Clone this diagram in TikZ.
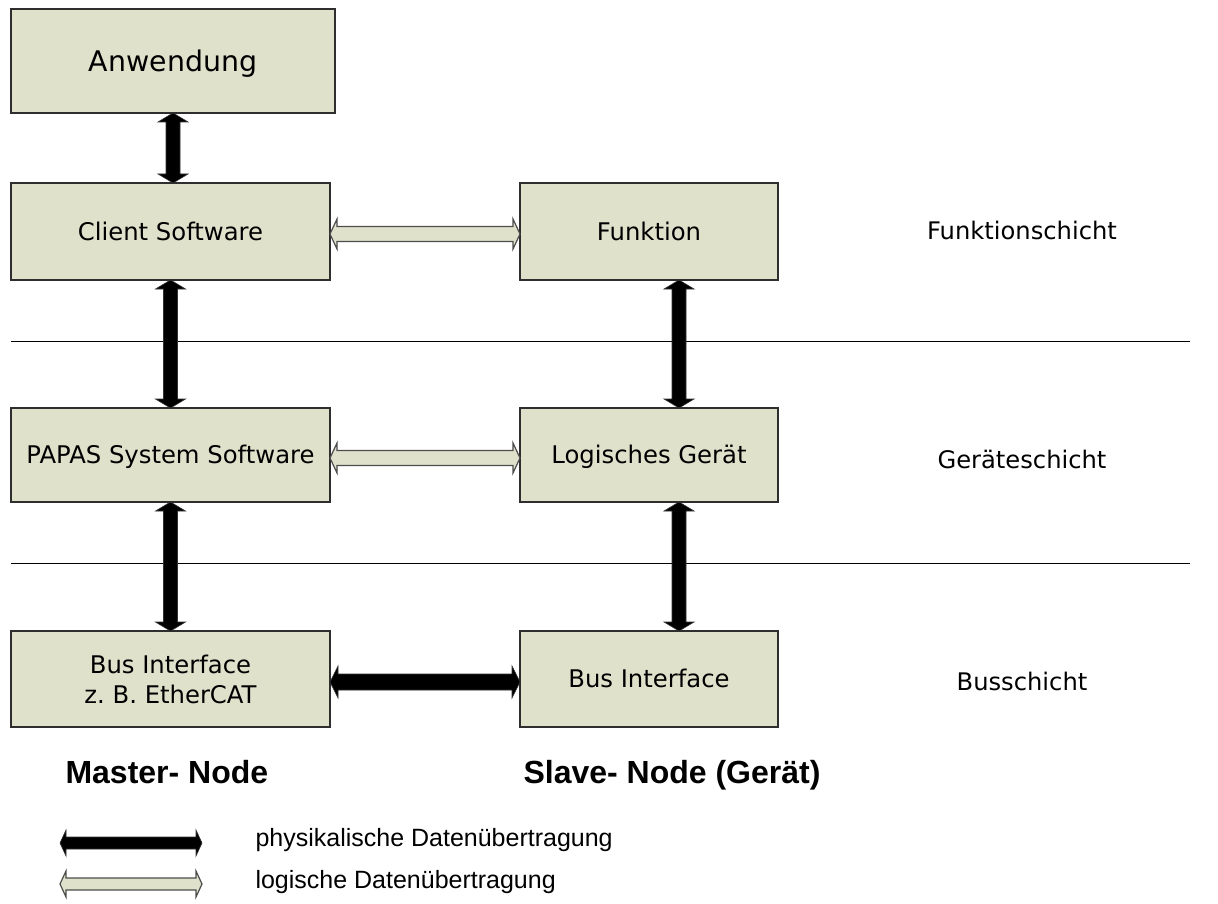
\documentclass[tikz,border=0pt]{standalone}
\usepackage{fontspec}
\setmainfont{DejaVu Sans}
\newfontfamily\arialfont{Liberation Sans}
\usetikzlibrary{calc}

\definecolor{boxfill}{HTML}{DFE1CB}
\definecolor{boxline}{HTML}{2E2E2E}

% vertical block double arrow: style, upper tip, lower tip, half shaft, half head, head length
\newcommand\dblarrowV[6]{%
  \path[#1] let \p1=(#2), \p2=(#3) in
    (\x1,\y1) -- (\x1+#5,\y1-#6) -- (\x1+#4,\y1-#6) -- (\x1+#4,\y2+#6)
    -- (\x1+#5,\y2+#6) -- (\x1,\y2) -- (\x1-#5,\y2+#6) -- (\x1-#4,\y2+#6)
    -- (\x1-#4,\y1-#6) -- (\x1-#5,\y1-#6) -- cycle;}
% horizontal block double arrow: style, left tip, right tip, half shaft, half head, head length
\newcommand\dblarrowH[6]{%
  \path[#1] let \p1=(#2), \p2=(#3) in
    (\x1,\y1) -- (\x1+#6,\y1+#5) -- (\x1+#6,\y1+#4) -- (\x2-#6,\y1+#4)
    -- (\x2-#6,\y1+#5) -- (\x2,\y1) -- (\x2-#6,\y1-#5) -- (\x2-#6,\y1-#4)
    -- (\x1+#6,\y1-#4) -- (\x1+#6,\y1-#5) -- cycle;}

\tikzset{
  box/.style={draw=boxline, fill=boxfill, line width=1.3pt, rectangle,
    inner sep=0pt, outer sep=0pt, align=center,
    font=\fontsize{24.3}{30}\selectfont},
  onebox/.style={box, text height=17.7pt, text depth=0pt},
  phys/.style={fill=black, draw=black!80, line width=0.6pt, line join=miter},
  logi/.style={fill=boxfill, draw=boxline!85, line width=1.2pt, line join=miter},
  layer/.style={anchor=base, font=\fontsize{24.2}{29}\selectfont},
  side/.style={anchor=base west, font=\arialfont\bfseries\fontsize{32}{38}\selectfont},
  legend/.style={anchor=base west, font=\arialfont\fontsize{25}{30}\selectfont},
  sepline/.style={draw=black, line width=1pt}
}

\begin{document}
\begin{tikzpicture}[x=1pt, y=-1pt]
  \useasboundingbox[fill=white] (0,0) rectangle (1218,904);

  % layer separators
  \draw[sepline] (11,341) -- (1190,341);
  \draw[sepline] (11,563) -- (1190,563);

  % master side
  \node[box, minimum width=324pt, minimum height=104pt, text height=20.7pt, text depth=0pt,
        font=\fontsize{28.4}{34}\selectfont] (anw) at (173,61) {Anwendung};
  \node[onebox, minimum width=319pt, minimum height=97pt] (client) at (170.5,231.5) {Client Software};
  \node[onebox, minimum width=319pt, minimum height=94pt] (papas) at (170.5,455) {PAPAS System Software};
  \node[box, minimum width=319pt, minimum height=96pt] (busL) at (170.5,679) {Bus Interface\\z.\ B. EtherCAT};

  % slave side
  \node[onebox, minimum width=258pt, minimum height=97pt] (funk) at (649,231.5) {Funktion};
  \node[onebox, minimum width=258pt, minimum height=94pt] (logi) at (649,455) {Logisches Gerät};
  \node[onebox, minimum width=258pt, minimum height=96pt] (busR) at (649,679) {Bus Interface};

  % layer names
  \node[layer] (l1) at (1022,240) {Funktionschicht};
  \node[layer] (l2) at (1022,468) {Geräteschicht};
  \node[layer] (l3) at (1022,690) {Busschicht};

  % column of the slave-side vertical arrows
  \coordinate (colR) at (679,0);

  % physical transfers
  \dblarrowV{phys}{anw.south}{client.north}{7pt}{15pt}{9pt}
  \dblarrowV{phys}{client.south}{papas.north}{7pt}{15pt}{9pt}
  \dblarrowV{phys}{papas.south}{busL.north}{7pt}{15pt}{9pt}
  \dblarrowV{phys}{funk.south -| colR}{logi.north -| colR}{7pt}{15pt}{9pt}
  \dblarrowV{phys}{logi.south -| colR}{busR.north -| colR}{7pt}{15pt}{9pt}
  \dblarrowH{phys}{[yshift=-3pt]busL.east}{[yshift=-3pt]busR.west}{8pt}{16pt}{8pt}

  % logical transfers
  \dblarrowH{logi}{[yshift=-2.5pt]client.east}{[yshift=-2.5pt]funk.west}{7.5pt}{15pt}{7pt}
  \dblarrowH{logi}{[yshift=-3pt]papas.east}{[yshift=-3pt]logi.west}{7.5pt}{15pt}{7pt}

  % node roles
  \node[side] (master) at (62,783) {Master- Node};
  \node[side] (slave) at (520,783) {Slave- Node (Gerät)};

  % legend
  \coordinate (lp1) at (60,843);
  \coordinate (lp2) at (202,843);
  \coordinate (ll1) at (60,884);
  \coordinate (ll2) at (202,884);
  \dblarrowH{phys}{lp1}{lp2}{6pt}{13pt}{6pt}
  \dblarrowH{logi}{ll1}{ll2}{6pt}{13pt}{6pt}
  \node[legend] (tphys) at (252,846) {physikalische Datenübertragung};
  \node[legend] (tlogi) at (252,888) {logische Datenübertragung};
\end{tikzpicture}
\end{document}
